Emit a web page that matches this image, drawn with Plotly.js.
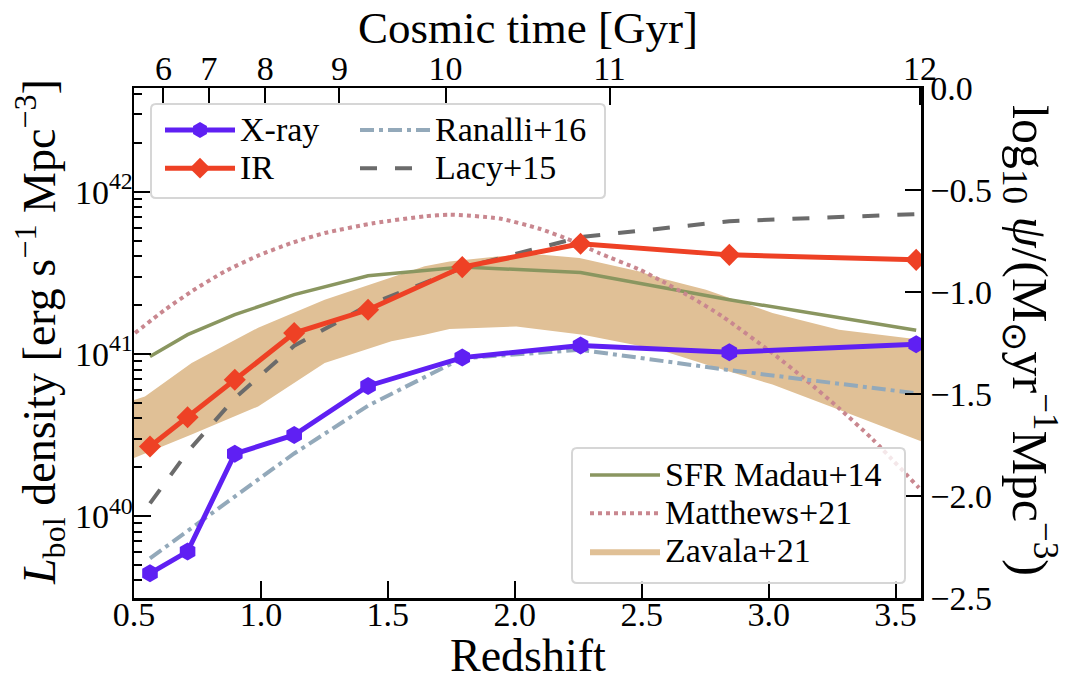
<!DOCTYPE html>
<html>
<head>
<meta charset="utf-8">
<script src="https://cdn.plot.ly/plotly-3.0.1.min.js"></script>
<style>
html,body{margin:0;padding:0;background:#fff;}
#chart{width:1070px;height:680px;}
#chart text, #chart tspan { font-family: 'Liberation Serif' !important; }
</style>
</head>
<body>
<div id="chart"></div>
<script>
// ---------------- data ----------------
const zBins = [0.563, 0.711, 0.897, 1.131, 1.422, 1.793, 2.259, 2.845, 3.581];
const xrayL = [4.43e39, 6.03e39, 2.42e40, 3.16e40, 6.34e40, 9.48e40, 1.125e41, 1.023e41, 1.148e41];
const irL = [2.68e40, 4.06e40, 6.92e40, 1.343e41, 1.871e41, 3.43e41, 4.78e41, 4.08e41, 3.80e41];
const ranalliL = [5.48e39, 8.13e39, 1.318e40, 2.43e40, 4.79e40, 9.40e40, 1.059e41, 7.94e40, 5.71e40];
const lacyL = [1.197e40, 2.483e40, 5.33e40, 1.122e41, 1.995e41, 3.39e41, 5.25e41, 6.58e41, 7.28e41];
const madauLogPsi = [-1.316, -1.209, -1.111, -1.013, -0.920, -0.877, -0.904, -1.038, -1.188];

const zMatthews = [0.504, 0.622, 0.727, 0.858, 0.989, 1.12, 1.251, 1.448, 1.645, 1.743, 1.94, 2.097, 2.228, 2.333, 2.491, 2.569, 2.687, 2.818, 3.015, 3.146, 3.277, 3.408, 3.592];
const matthewsLogPsi = [-1.201, -1.087, -0.997, -0.899, -0.822, -0.760, -0.711, -0.662, -0.629, -0.621, -0.640, -0.690, -0.750, -0.810, -0.890, -0.940, -1.020, -1.120, -1.300, -1.430, -1.570, -1.720, -1.960];

const zZavalaUpper = [0.5, 0.543, 0.727, 0.989, 1.251, 1.514, 1.645, 1.743, 1.94, 2.11, 2.255, 2.399, 2.491, 2.569, 2.753, 3.015, 3.277, 3.6];
const zavalaUpper = [-1.529, -1.512, -1.348, -1.175, -1.038, -0.931, -0.874, -0.850, -0.825, -0.817, -0.833, -0.874, -0.900, -0.930, -0.989, -1.103, -1.185, -1.234];
const zZavalaLower = [0.5, 0.727, 0.989, 1.251, 1.514, 1.645, 1.743, 2.006, 2.268, 2.569, 2.753, 3.015, 3.277, 3.6];
const zavalaLower = [-1.814, -1.699, -1.561, -1.348, -1.242, -1.209, -1.181, -1.169, -1.209, -1.283, -1.356, -1.454, -1.577, -1.732];

const redshiftTicks = [0.5, 1.0, 1.5, 2.0, 2.5, 3.0, 3.5];
const cosmicTimeTickZ = [0.616, 0.795, 1.017, 1.309, 1.727, 2.373, 3.596];
const cosmicTimeLabels = ['6', '7', '8', '9', '10', '11', '12'];
const lumTickVals = [1e40, 1e41, 1e42];
const lumTickText = ['10<sup>40</sup>', '10<sup>41</sup>', '10<sup>42</sup>'];
const psiTicks = [-2.5, -2.0, -1.5, -1.0, -0.5, 0.0];

// ---------------- style ----------------
const FONT = 'Liberation Serif';
const lumMinor = [];
for (let e = 39; e <= 42; e++) for (let d = 2; d <= 9; d++) lumMinor.push(d * Math.pow(10, e));
const lg = t => '<span style="font-size:34px">' + t + '</span>';

// plot-area helpers (pixel -> paper) for legend frames
const PL = 134, PT = 88, PW = 787, PH = 510;
const px = x => (x - PL) / PW;
const py = y => (PT + PH - y) / PH;
function roundRect(x0, y0, x1, y1, r) {
  const rx = r / PW, ry = r / PH;
  const X0 = px(x0), X1 = px(x1), Y0 = py(y1), Y1 = py(y0);
  return `M${X0 + rx},${Y0} L${X1 - rx},${Y0} Q${X1},${Y0} ${X1},${Y0 + ry} L${X1},${Y1 - ry} Q${X1},${Y1} ${X1 - rx},${Y1} L${X0 + rx},${Y1} Q${X0},${Y1} ${X0},${Y1 - ry} L${X0},${Y0 + ry} Q${X0},${Y0} ${X0 + rx},${Y0} Z`;
}

const traces = [
  { // Zavala band
    x: zZavalaUpper.concat(zZavalaLower.slice().reverse()),
    y: zavalaUpper.concat(zavalaLower.slice().reverse()),
    xaxis: 'x', yaxis: 'y', type: 'scatter', mode: 'lines', fill: 'toself',
    fillcolor: '#e0c096', line: { width: 0, color: '#e0c096' },
    name: lg('Zavala+21'), legend: 'legend3', legendrank: 3, hoverinfo: 'skip'
  },
  {
    x: zBins, y: madauLogPsi, xaxis: 'x', yaxis: 'y', type: 'scatter', mode: 'lines',
    line: { color: '#8a9660', width: 3.5 }, name: lg('SFR Madau+14'), legend: 'legend3', legendrank: 1
  },
  {
    x: zMatthews, y: matthewsLogPsi, xaxis: 'x', yaxis: 'y', type: 'scatter', mode: 'lines',
    line: { color: '#c9878f', width: 4, dash: '4px,4px', shape: 'spline', smoothing: 0.6 },
    name: lg('Matthews+21'), legend: 'legend3', legendrank: 2
  },
  {
    x: zBins, y: ranalliL, xaxis: 'x', yaxis: 'y2', type: 'scatter', mode: 'lines',
    line: { color: '#93a9ba', width: 4, dash: '14px,5px,4px,5px' }, name: lg('Ranalli+16'), legend: 'legend2', legendrank: 1
  },
  {
    x: zBins, y: lacyL, xaxis: 'x', yaxis: 'y2', type: 'scatter', mode: 'lines',
    line: { color: '#6b6b6b', width: 4, dash: '17px,18px' }, name: lg('Lacy+15'), legend: 'legend2', legendrank: 2
  },
  {
    x: zBins, y: xrayL, xaxis: 'x', yaxis: 'y2', type: 'scatter', mode: 'lines+markers',
    line: { color: '#5f20f3', width: 5 }, marker: { symbol: 'hexagon', size: 18, color: '#5f20f3' },
    name: lg('X-ray'), legend: 'legend', legendrank: 1
  },
  {
    x: zBins, y: irL, xaxis: 'x2', yaxis: 'y2', type: 'scatter', mode: 'lines+markers',
    line: { color: '#ee4125', width: 5 }, marker: { symbol: 'diamond', size: 17, color: '#ee4125' },
    name: lg('IR'), legend: 'legend', legendrank: 2
  }
];

const axCommon = {
  showgrid: false, zeroline: false, showline: true, linecolor: 'black', linewidth: 2.5,
  ticks: 'inside', ticklen: 17, tickwidth: 2, tickcolor: 'black',
  tickfont: { family: FONT, size: 34, color: 'black' }
};

const legCommon = {
  bgcolor: 'rgba(0,0,0,0)', borderwidth: 0, itemwidth: 70,
  font: { family: FONT, size: 27, color: 'black' },
  xanchor: 'left', yanchor: 'top', traceorder: 'normal', itemclick: false
};

const layout = {
  width: 1070, height: 680,
  margin: { l: PL, r: 1070 - PL - PW, t: PT, b: 680 - PT - PH },
  paper_bgcolor: 'white', plot_bgcolor: 'white',
  font: { family: FONT, color: 'black' },
  showlegend: true,
  xaxis: Object.assign({}, axCommon, {
    range: [0.5, 3.6], tickmode: 'array', tickvals: redshiftTicks, tickformat: '.1f',
    anchor: 'y', side: 'bottom', ticklabelstandoff: -15
  }),
  xaxis2: Object.assign({}, axCommon, {
    range: [0.5, 3.6], tickmode: 'array', tickvals: cosmicTimeTickZ, ticktext: cosmicTimeLabels,
    overlaying: 'x', side: 'top', anchor: 'y', ticklabelstandoff: -8
  }),
  yaxis: Object.assign({}, axCommon, {
    range: [-2.5, 0.0], tickmode: 'array', tickvals: psiTicks, tickformat: '.1f',
    side: 'right', anchor: 'x', ticklen: 16
  }),
  yaxis2: Object.assign({}, axCommon, {
    type: 'log', range: [39.494, 42.64], tickmode: 'array', tickvals: lumTickVals, ticktext: lumTickText,
    overlaying: 'y', side: 'left', anchor: 'x', ticklabelstandoff: -8,
    minor: { tickmode: 'array', tickvals: lumMinor, ticks: 'inside', ticklen: 8, tickwidth: 2, tickcolor: 'black', showgrid: false }
  }),
  legend: Object.assign({}, legCommon, { x: px(160), y: py(106) }),
  legend2: Object.assign({}, legCommon, { x: px(355), y: py(106) }),
  legend3: Object.assign({}, legCommon, { x: px(585), y: py(451) }),
  shapes: [
    { type: 'path', xref: 'paper', yref: 'paper', layer: 'above', path: roundRect(151, 104, 605, 198, 5),
      fillcolor: 'rgba(255,255,255,0.8)', line: { color: '#d6d6d6', width: 2 } },
    { type: 'path', xref: 'paper', yref: 'paper', layer: 'above', path: roundRect(572, 448, 905, 583, 5),
      fillcolor: 'rgba(255,255,255,0.8)', line: { color: '#d6d6d6', width: 2 } }
  ],
  annotations: [
    { text: 'Cosmic time [Gyr]', xref: 'paper', yref: 'paper', x: 0.5, y: py(28), xanchor: 'center', yanchor: 'middle',
      showarrow: false, font: { family: FONT, size: 45, color: 'black' } },
    { text: 'Redshift', xref: 'paper', yref: 'paper', x: 0.5, y: py(655), xanchor: 'center', yanchor: 'middle',
      showarrow: false, font: { family: FONT, size: 46, color: 'black' } },
    { text: '<i>L</i><sub>bol</sub> density [erg s<sup>−1</sup> Mpc<sup>−3</sup>]', xref: 'paper', yref: 'paper',
      x: px(39), y: py(332), xanchor: 'center', yanchor: 'middle', textangle: -90,
      showarrow: false, font: { family: FONT, size: 46, color: 'black' } },
    { text: 'log<sub>10</sub> <i>ψ</i>/(M<sub>⊙</sub>yr<sup>−1</sup>Mpc<sup>−3</sup>)', xref: 'paper', yref: 'paper',
      x: px(1030), y: py(340), xanchor: 'center', yanchor: 'middle', textangle: 90,
      showarrow: false, font: { family: FONT, size: 50, color: 'black' } }
  ]
};

Plotly.newPlot('chart', traces, layout, { staticPlot: true, displayModeBar: false });
</script>
</body>
</html>
